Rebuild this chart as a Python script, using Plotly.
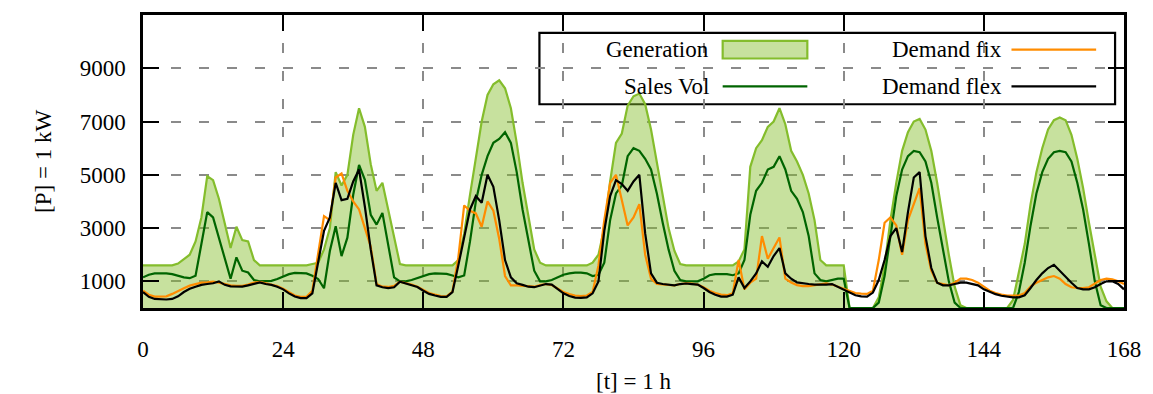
import plotly.graph_objects as go

# ---------------- data ----------------
hours = list(range(169))

generation = (
    [1600, 1600, 1600, 1600, 1600, 1600]
    + [1670, 1830, 2000, 2500, 3400, 4950, 4800, 4100, 3200, 2250, 3050, 2550, 2500, 1800]
    + [1600] * 9 + [1650]
    + [1700, 2200, 3000, 5100, 4600, 5000, 6500, 7500, 6800, 5400, 4400, 4700, 3700, 2600, 1650]
    + [1600] * 9
    + [1800, 2800, 4250, 5700, 7000, 8000, 8400, 8550, 8250, 7500, 6200, 4700, 3400, 2200, 1700]
    + [1600] * 8
    + [1700, 2000, 3000, 4750, 6200, 6550, 7600, 7950, 8050, 7650, 6700, 5500, 4250, 3000, 2150, 1650]
    + [1600] * 9
    + [1750, 2200, 5300, 6000, 6300, 6800, 7000, 7500, 6900, 5900, 5500, 5000, 4300, 3300, 1800, 1600, 1600, 1600, 1600]
    + [0] * 5
    + [400, 1600, 3300, 4700, 5900, 6600, 7000, 7100, 6700, 5900, 4700, 3300, 2000, 800, 100, 0]
    + [0] * 7
    + [300, 1300, 2400, 3900, 5100, 6000, 6700, 7050, 7150, 7050, 6500, 5600, 4500, 3200, 2000, 800, 250, 0]
    + [0, 0]
)

sales_vol = (
    [1150, 1250, 1300, 1300, 1300, 1270, 1210, 1150, 1120, 1210]
    + [2400, 3600, 3400, 2650, 1900, 1100, 1900, 1400, 1330, 1050]
    + [1000, 1000, 1020, 1090, 1170, 1270, 1320, 1320, 1300, 1210]
    + [1090, 740, 2140, 3070, 1950, 2640, 4250, 5370, 4810, 3500, 3130, 3570, 2330, 1150]
    + [1000, 1000, 1050, 1120, 1200, 1270, 1300, 1300, 1280, 1220, 1150, 1220]
    + [2500, 4000, 5000, 5700, 6200, 6350, 6600, 6200, 5100, 3700, 2500, 1400]
    + [1000, 1000, 1050, 1150, 1250, 1300, 1330, 1330, 1300, 1200, 1250]
    + [1700, 3300, 4300, 4600, 5700, 6000, 5900, 5600, 5200, 4300, 3200, 2200, 1400]
    + [1050, 1000, 1000, 1000, 1100, 1230, 1270, 1270, 1270, 1230, 1300]
    + [1800, 3500, 4400, 4700, 5200, 5300, 5700, 5200, 4400, 4100, 3600, 2700, 1300, 1050, 1000, 1050, 1100, 1100]
    + [0] * 5
    + [200, 1200, 2700, 4200, 5200, 5700, 5900, 5850, 5500, 4700, 3400, 2200, 1000, 200, 0]
    + [0] * 8
    + [0, 600, 1700, 3100, 4300, 5100, 5600, 5850, 5900, 5850, 5500, 4700, 3700, 2400, 1000, 100, 0]
    + [0, 0, 0]
)

demand_flex = [
    600, 420, 340, 320, 320, 340, 440, 600, 720, 800,
    870, 900, 930, 1000, 870, 810, 800, 800, 850, 910,
    960, 900, 870, 800, 700, 550, 430, 370, 370, 550,
    1700, 2900, 3400, 4700, 4050, 4100, 4750, 5200, 3800, 2200,
    850, 780, 750, 780, 990, 930, 860, 790, 650, 530,
    470, 420, 420, 600, 1600, 2700, 3700, 4200, 3950, 5000,
    4550, 3300, 1800, 1150, 930, 870, 800, 780, 850, 900,
    880, 700, 550, 450, 390, 380, 400, 550, 1000, 2900,
    4200, 4800, 4650, 4400, 4750, 5000, 2800, 1300, 950, 900,
    880, 850, 900, 920, 900, 880, 750, 600, 500, 430,
    430, 500, 1150, 750, 1000, 1300, 1750, 1550, 1950, 2250,
    1300, 1100, 960, 920, 900, 880, 870, 880, 900, 800,
    700, 580, 480, 440, 430, 580, 1050, 1800, 2700, 3000,
    2100, 3600, 4900, 5100, 2700, 1500, 950, 850, 850, 900,
    950, 950, 900, 850, 700, 600, 520, 460, 420, 400,
    400, 480, 750, 1050, 1300, 1500, 1620, 1400, 1150, 950,
    750, 700, 700, 780, 900, 1000, 1000, 900, 700,
]

demand_fix = [
    650, 500, 430, 430, 440, 530, 620, 740, 840, 900,
    950, 960, 990, 950, 900, 850, 830, 830, 880, 950,
    980, 920, 880, 820, 720, 580, 470, 420, 420, 650,
    2000, 3450, 3300, 4900, 5050, 4400, 4000, 3700, 3000, 2300,
    900, 800, 790, 830, 990, 940, 880, 800, 680, 560,
    500, 450, 440, 620, 1900, 3850, 3650, 3550, 3050, 4000,
    3650, 2600, 1200, 850, 850, 830, 800, 800, 860, 900,
    860, 720, 600, 520, 470, 450, 470, 600, 1600, 3300,
    4700, 5000, 4100, 3100, 3400, 3900, 2000, 1100, 900, 880,
    860, 850, 900, 930, 920, 880, 780, 650, 560, 500,
    480, 550, 1800, 700, 950, 1100, 2700, 1850, 2250, 2650,
    1100, 960, 860, 820, 820, 850, 900, 920, 880, 800,
    700, 620, 560, 540, 530, 650, 1800, 3200, 3400, 3100,
    2000, 3300, 3900, 4500, 2400, 1400, 950, 900, 850, 950,
    1100, 1100, 1050, 950, 800, 650, 560, 500, 470, 460,
    470, 560, 800, 950, 1050, 1150, 1200, 1100, 900, 780,
    750, 750, 780, 900, 1050, 1100, 1080, 1000, 900,
]

x_ticks = [0, 24, 48, 72, 96, 120, 144, 168]
y_ticks = [1000, 3000, 5000, 7000, 9000]
series_names = ["Generation", "Sales Vol", "Demand fix", "Demand flex"]
x_title = "[t] = 1 h"
y_title = "[P] = 1 kW"

# ---------------- style ----------------
FONT = "Liberation Serif"
FS = 23
GEN_LINE = "#84BD2C"
GEN_FILL = "rgba(132,189,44,0.46)"
SALES = "#006400"
FIX = "#FF8C00"
FLEX = "#000000"

fig = go.Figure()
fig.add_trace(go.Scatter(x=hours, y=generation, mode="lines", name=series_names[0],
                         line=dict(color=GEN_LINE, width=2.2), fill="tozeroy",
                         fillcolor=GEN_FILL, showlegend=False))
fig.add_trace(go.Scatter(x=hours, y=sales_vol, mode="lines", name=series_names[1],
                         line=dict(color=SALES, width=2.2), showlegend=False))
fig.add_trace(go.Scatter(x=hours, y=demand_fix, mode="lines", name=series_names[2],
                         line=dict(color=FIX, width=2.2), showlegend=False))
fig.add_trace(go.Scatter(x=hours, y=demand_flex, mode="lines", name=series_names[3],
                         line=dict(color=FLEX, width=2.2), showlegend=False))

axis_common = dict(
    ticks="inside", ticklen=16, tickwidth=2, tickcolor="black",
    showline=True, linewidth=2.5, linecolor="black", mirror="ticks",
    showgrid=True, gridcolor="#8a8a8a", gridwidth=1.8, griddash="10px,18px",
    zeroline=False, tickfont=dict(family=FONT, size=FS, color="black"),
)

fig.update_layout(
    width=1153, height=394,
    margin=dict(l=143, r=25, t=12, b=86),
    paper_bgcolor="white", plot_bgcolor="white",
    xaxis=dict(range=[0, 168], tickvals=x_ticks, ticklabelstandoff=19, **axis_common),
    yaxis=dict(range=[0, 11000], tickvals=y_ticks, ticklabelstandoff=10, **axis_common),
    font=dict(family=FONT, size=FS, color="black"),
)

# axis titles
fig.add_annotation(text=x_title, xref="paper", yref="paper", x=0.5, y=-0.25,
                   xanchor="center", yanchor="middle", showarrow=False,
                   font=dict(family=FONT, size=FS, color="black"))
fig.add_annotation(text=y_title, xref="paper", yref="paper", x=-0.1015, y=0.5,
                   xanchor="center", yanchor="middle", textangle=-90, showarrow=False,
                   font=dict(family=FONT, size=FS, color="black"))

# manual legend (gnuplot style, drawn under the data)
try:
    fig.add_shape(type="rect", xref="paper", yref="paper", x0=0.4041, x1=0.9909,
                  y0=0.6954, y1=0.9391, fillcolor="white",
                  line=dict(color="black", width=2.2), layer="between")
except Exception:
    fig.add_shape(type="rect", xref="paper", yref="paper", x0=0.4041, x1=0.9909,
                  y0=0.6954, y1=0.9391, fillcolor="white",
                  line=dict(color="black", width=2.2), layer="below")

row1, row2 = 0.8816, 0.7563
c1_text, c2_text = 0.5786, 0.8775
c1_s0, c1_s1 = 0.5909, 0.6772
c2_s0, c2_s1 = 0.8853, 0.9716

fig.add_shape(type="rect", xref="paper", yref="paper", x0=c1_s0, x1=c1_s1,
              y0=row1 - 0.030, y1=row1 + 0.030, fillcolor=GEN_FILL,
              line=dict(color=GEN_LINE, width=2.2))
fig.add_shape(type="line", xref="paper", yref="paper", x0=c1_s0, x1=c1_s1,
              y0=row2, y1=row2, line=dict(color=SALES, width=2.2))
fig.add_shape(type="line", xref="paper", yref="paper", x0=c2_s0, x1=c2_s1,
              y0=row1, y1=row1, line=dict(color=FIX, width=2.2))
fig.add_shape(type="line", xref="paper", yref="paper", x0=c2_s0, x1=c2_s1,
              y0=row2, y1=row2, line=dict(color=FLEX, width=2.2))

for txt, xx, yy in [(series_names[0], c1_text, row1), (series_names[1], c1_text, row2),
                    (series_names[2], c2_text, row1), (series_names[3], c2_text, row2)]:
    fig.add_annotation(text=txt, xref="paper", yref="paper", x=xx, y=yy,
                       xanchor="right", yanchor="middle", showarrow=False,
                       font=dict(family=FONT, size=FS, color="black"))

fig.write_html("out.html")
